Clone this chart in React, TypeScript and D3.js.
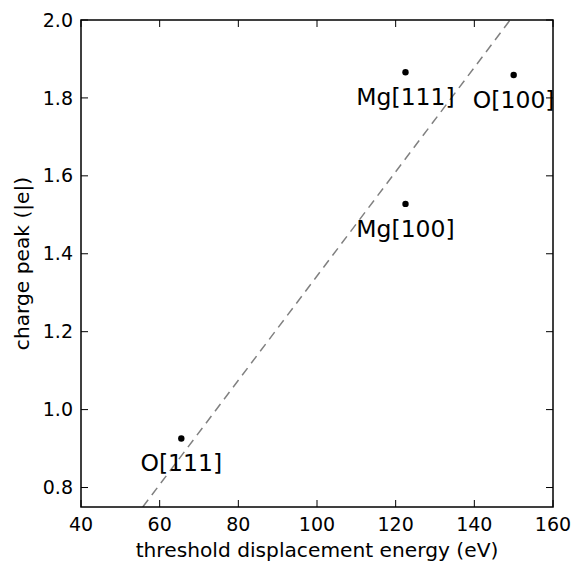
import React from "react";
import * as d3 from "d3";

const labels = ["Mg[111]", "O[100]", "Mg[100]", "O[111]"];
const energies = [122.5, 150, 122.5, 65.5];
const charges = [1.866, 1.859, 1.528, 0.926];
const xTicks = [40, 60, 80, 100, 120, 140, 160];
const yTicks = [0.8, 1.0, 1.2, 1.4, 1.6, 1.8, 2.0];
const fitLine = [
  [55.7, 0.75],
  [149.1, 2.0],
];

const W = 574;
const H = 563;
const L = 81, R = 553, T = 20, B = 507;
const FONT = "DejaVu Sans, sans-serif";

export default function App() {
  const x = d3.scaleLinear().domain([40, 160]).range([L, R]);
  const y = d3.scaleLinear().domain([0.75, 2.0]).range([B, T]);
  const line = d3
    .line<number[]>()
    .x((d) => x(d[0]))
    .y((d) => y(d[1]));
  return (
    <svg
      width={W}
      height={H}
      style={{ position: "absolute", left: 0, top: 0, background: "#fff" }}
      fontFamily={FONT}
    >
      <defs>
        <clipPath id="clip">
          <rect x={L} y={T} width={R - L} height={B - T} />
        </clipPath>
      </defs>
      <path
        d={line(fitLine) || ""}
        stroke="#808080"
        strokeWidth={1.5}
        strokeDasharray="9,6"
        fill="none"
        clipPath="url(#clip)"
      />
      {energies.map((e, i) => (
        <circle key={i} cx={x(e)} cy={y(charges[i])} r={3.2} fill="#000" />
      ))}
      {energies.map((e, i) => (
        <text
          key={"l" + i}
          x={x(e)}
          y={y(charges[i]) + 33}
          textAnchor="middle"
          fontSize={23.5}
          fill="#000"
        >
          {labels[i]}
        </text>
      ))}
      {xTicks.map((t) => (
        <g key={"x" + t}>
          <line x1={x(t)} x2={x(t)} y1={B} y2={B - 7} stroke="#000" strokeWidth={1} />
          <line x1={x(t)} x2={x(t)} y1={T} y2={T + 7} stroke="#000" strokeWidth={1} />
          <text x={x(t)} y={B + 24} textAnchor="middle" fontSize={19}>
            {t}
          </text>
        </g>
      ))}
      {yTicks.map((t) => (
        <g key={"y" + t}>
          <line x1={L} x2={L + 7} y1={y(t)} y2={y(t)} stroke="#000" strokeWidth={1} />
          <line x1={R} x2={R - 7} y1={y(t)} y2={y(t)} stroke="#000" strokeWidth={1} />
          <text x={L - 8} y={y(t)} dy="0.35em" textAnchor="end" fontSize={19}>
            {t.toFixed(1)}
          </text>
        </g>
      ))}
      <rect x={L} y={T} width={R - L} height={B - T} fill="none" stroke="#000" strokeWidth={1.5} />
      <text x={(L + R) / 2} y={557} textAnchor="middle" fontSize={20.2}>
        threshold displacement energy (eV)
      </text>
      <text
        transform={`translate(29,${(T + B) / 2}) rotate(-90)`}
        textAnchor="middle"
        fontSize={20.2}
      >
        charge peak (|e|)
      </text>
    </svg>
  );
}
